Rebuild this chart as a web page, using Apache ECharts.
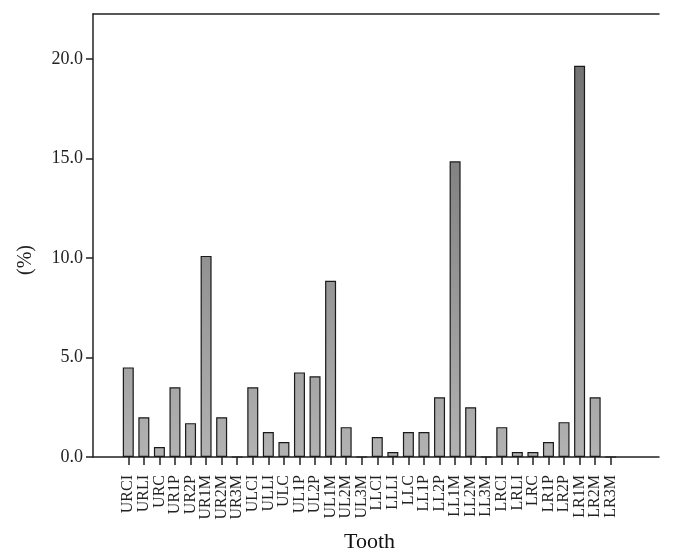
<!DOCTYPE html>
<html lang="en">
<head>
    <meta charset="UTF-8">
    <title>Tooth</title>
    <script src="https://cdn.jsdelivr.net/npm/echarts@6/dist/echarts.min.js"></script>
    <style>
        body { margin: 0; background: #fff; }
    </style>
</head>
<body>
<div id="chartmain" style="width: 674px; height: 559px;"></div>
<script type="text/javascript">
    // teeth and percentages
    var teeth = ['URCI', 'URLI', 'URC', 'UR1P', 'UR2P', 'UR1M', 'UR2M', 'UR3M',
        'ULCI', 'ULLI', 'ULC', 'UL1P', 'UL2P', 'UL1M', 'UL2M', 'UL3M',
        'LLCI', 'LLLI', 'LLC', 'LL1P', 'LL2P', 'LL1M', 'LL2M', 'LL3M',
        'LRCI', 'LRLI', 'LRC', 'LR1P', 'LR2P', 'LR1M', 'LR2M', 'LR3M'];
    var percent = [4.5, 2.0, 0.5, 3.5, 1.7, 10.1, 2.0, 0,
        3.5, 1.25, 0.75, 4.25, 4.05, 8.85, 1.5, 0,
        1.0, 0.25, 1.25, 1.25, 3.0, 14.85, 2.5, 0,
        1.5, 0.25, 0.25, 0.75, 1.75, 19.65, 3.0, 0];
    var yTicks = [0, 5, 10, 15, 20];
    var yMax = 22.25;

    var serif = '"Liberation Serif", "DejaVu Serif", serif';

    var myChart = echarts.init(document.getElementById('chartmain'));

    var option = {
        animation: false,
        grid: [
            // frame
            {left: 93, top: 14, width: 566, height: 443, containLabel: false, outerBoundsMode: 'none'},
            // bars
            {left: 120.5, top: 14, width: 498, height: 443, containLabel: false, outerBoundsMode: 'none'}
        ],
        xAxis: [
            {
                gridIndex: 0, type: 'value', min: 0, max: 1, position: 'bottom',
                axisLine: {show: true, lineStyle: {color: '#222', width: 1.5}},
                axisTick: {show: false}, axisLabel: {show: false}, splitLine: {show: false}
            },
            {
                gridIndex: 0, type: 'value', min: 0, max: 1, position: 'top',
                axisLine: {show: true, lineStyle: {color: '#222', width: 1.5}},
                axisTick: {show: false}, axisLabel: {show: false}, splitLine: {show: false}
            },
            {
                gridIndex: 1, type: 'category', data: teeth, position: 'bottom',
                axisLine: {show: false},
                axisTick: {show: true, alignWithLabel: true, length: 8, lineStyle: {color: '#222', width: 1.5}},
                axisLabel: {
                    interval: 0, rotate: 90, margin: 18,
                    fontFamily: serif, fontSize: 16, color: '#222'
                },
                splitLine: {show: false}
            }
        ],
        yAxis: [
            {
                gridIndex: 0, type: 'value', min: 0, max: yMax,
                axisLine: {show: true, lineStyle: {color: '#222', width: 1.5}},
                axisTick: {show: true, length: 7, customValues: yTicks, lineStyle: {color: '#222', width: 1.5}},
                axisLabel: {
                    customValues: yTicks, margin: 10,
                    fontFamily: serif, fontSize: 18, color: '#222',
                    formatter: function (v) { return v.toFixed(1); }
                },
                splitLine: {show: false}
            },
            {
                gridIndex: 1, type: 'value', min: 0, max: yMax, show: false
            }
        ],
        graphic: [{
            type: 'text', left: 344, top: 531,
            style: {text: 'Tooth', font: '22px ' + serif, fill: '#111'}
        }, {
            type: 'text', x: 26, y: 260, rotation: Math.PI / 2,
            style: {text: '(%)', font: '20px ' + serif, fill: '#222', align: 'center', verticalAlign: 'middle'}
        }],
        series: [{
            type: 'bar',
            xAxisIndex: 2,
            yAxisIndex: 1,
            data: percent,
            barWidth: 11,
            itemStyle: {
                color: new echarts.graphic.LinearGradient(0, 14, 0, 457, [
                    {offset: 0, color: '#6a6a6a'},
                    {offset: 1, color: '#b2b2b2'}
                ], true),
                borderColor: '#1a1a1a',
                borderWidth: 1.2
            }
        }]
    };

    myChart.setOption(option);
</script>
</body>
</html>
